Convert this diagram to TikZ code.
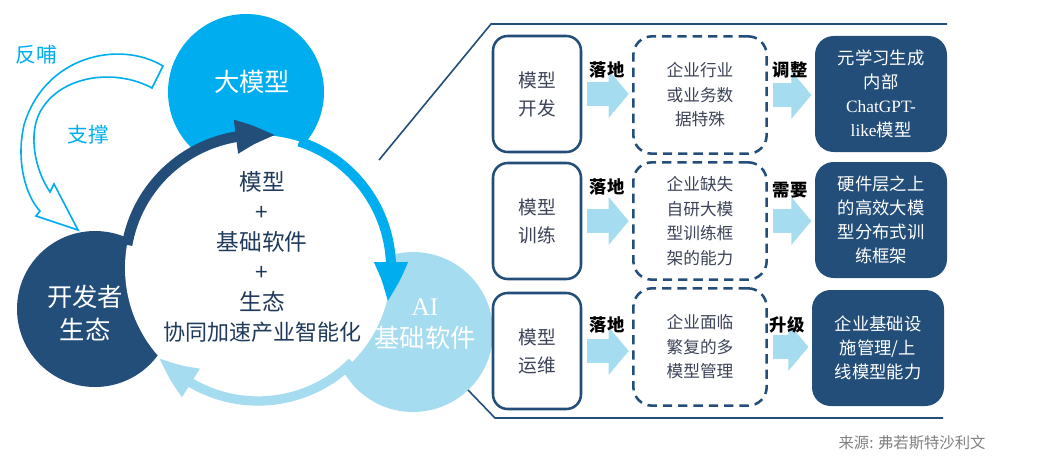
\documentclass[tikz,border=0pt]{standalone}
\usepackage{fontspec}
\setmainfont{Liberation Serif}
\newfontfamily\cjk{Noto Sans CJK SC}
\usetikzlibrary{arrows.meta,bending}

\definecolor{deepblue}{HTML}{234E7A}
\definecolor{skyblue}{HTML}{00AEEF}
\definecolor{paleblue}{HTML}{A6DCF0}
\definecolor{inkblue}{HTML}{1F3A5C}
\definecolor{slate}{HTML}{3C4358}

\begin{document}
\begin{tikzpicture}[x=0.75pt, y=-0.75pt,
    bubble/.style={circle, inner sep=0pt, outer sep=0pt, minimum size=#1},
    stage/.style={draw=deepblue, line width=1.9pt, rounded corners=11pt, fill=white,
        minimum width=66pt, minimum height=87pt, align=center, text=slate,
        font=\cjk\fontsize{14}{21}\selectfont},
    need/.style={draw=deepblue, line width=1.9pt, dash pattern=on 7pt off 4.5pt,
        rounded corners=14pt, minimum width=100pt, minimum height=88pt, align=center,
        text=slate, font=\cjk\fontsize{12.5}{18.4}\selectfont},
    goal/.style={fill=deepblue, rounded corners=14pt, minimum width=99pt,
        minimum height=87pt, align=center, text=white, font=\cjk\fontsize{13}{18}\selectfont},
    flow/.style={draw=paleblue, line width=18pt, -{Triangle[length=15pt, width=35pt]},
        shorten <=3.5pt, shorten >=2.5pt},
    tag/.style={font=\cjk\bfseries\fontsize{13}{15}\selectfont, text=black},
    cyclearc/.style={line width=#1, -{Triangle[length=31pt, width=23pt, bend]}}
]
    \useasboundingbox (0,0) rectangle (1048,460);

    % --- Les trois cercles ---
    \node[bubble=117pt, fill=skyblue] (big) at (246,92) {};
    \node[bubble=117pt, fill=deepblue] (dev) at (95,309) {};
    \node[bubble=120pt, fill=paleblue] (ai) at (413,332) {};

    % --- Disque central et fleches circulaires ---
    \node[bubble=199.5pt, fill=white] (hub) at (258,268) {};
    \draw[skyblue, cyclearc=7.5pt] (hub.72) arc[start angle=72, end angle=-15, radius=99.75pt];
    \draw[deepblue, cyclearc=8pt] (hub.170) arc[start angle=170, end angle=82, radius=99.75pt];
    \draw[paleblue, cyclearc=7pt] (hub.-45) arc[start angle=-45, end angle=-138, radius=99.75pt];

    % --- Textes des cercles ---
    \node[text=white, font=\cjk\fontsize{19}{22}\selectfont] (bigtxt) at (252,82) {大模型};
    \node[text=white, align=center, font=\cjk\fontsize{19}{25}\selectfont] (devtxt) at (85,313) {开发者\\生态};
    \node[text=white, align=center, font=\cjk\fontsize{19}{24}\selectfont] (aitxt) at (425,324) {{\rmfamily AI}\\基础软件};
    \node[text=inkblue, align=center, font=\cjk\fontsize{17}{22.5}\selectfont] (core) at (262,257)
        {模型\\+\\基础软件\\+\\生态\\{\fontsize{16.5}{22.5}\selectfont 协同加速产业智能化}};

    % --- Fleche creuse a gauche ---
    \draw[skyblue, line width=1.2pt, fill=white, line join=miter]
        (163,66) .. controls (120,40) and (45,55) .. (24,125)
        .. controls (16,160) and (25,195) .. (40,211) -- (36,216) -- (78,230) -- (54,184) -- (50,192)
        .. controls (35,170) and (28,135) .. (40,112)
        .. controls (60,75) and (115,68) .. (152,88) -- cycle;
    \node[text=skyblue, font=\cjk\fontsize{15.5}{17}\selectfont] (feed) at (36,55) {反哺};
    \node[text=skyblue, font=\cjk\fontsize{15.5}{17}\selectfont] (prop) at (88,135) {支撑};

    % --- Cadre de droite ---
    \coordinate (topfoot) at (379,160);
    \coordinate (topknee) at (491,24);
    \coordinate (topend) at (947,24);
    \coordinate (lowfoot) at (468,390);
    \coordinate (lowknee) at (495,418);
    \coordinate (lowend) at (943,418);
    \draw[deepblue, line width=1.2pt] (topfoot) -- (topknee) -- (topend);
    \draw[deepblue, line width=1.2pt] (lowfoot) -- (lowknee) -- (lowend);

    % --- Ligne 1 : developpement ---
    \node[stage] (m1) at (537,94) {模型\\开发};
    \node[need] (d1) at (700,95) {企业行业\\或业务数\\据特殊};
    \node[goal] (g1) at (881,94) {元学习生成\\内部\\{\rmfamily ChatGPT-}\\{\rmfamily like}模型};
    \draw[flow] (m1.east) -- (m1.east -| d1.west);
    \draw[flow] (d1.east) -- (d1.east -| g1.west);
    \node[tag] (t1a) at (607,70) {落地};
    \node[tag] (t1b) at (790,70) {调整};

    % --- Ligne 2 : entrainement ---
    \node[stage] (m2) at (537,221) {模型\\训练};
    \node[need] (d2) at (700,221) {企业缺失\\自研大模\\型训练框\\架的能力};
    \node[goal] (g2) at (881,220) {硬件层之上\\的高效大模\\型分布式训\\练框架};
    \draw[flow] (m2.east) -- (m2.east -| d2.west);
    \draw[flow] (d2.east) -- (d2.east -| g2.west);
    \node[tag] (t2a) at (607,187) {落地};
    \node[tag] (t2b) at (790,190) {需要};

    % --- Ligne 3 : exploitation ---
    \node[stage] (m3) at (537,351) {模型\\运维};
    \node[need] (d3) at (700,347) {企业面临\\繁复的多\\模型管理};
    \node[goal] (g3) at (878,348) {企业基础设\\施管理/上\\线模型能力};
    \draw[flow] (m3.east) -- (m3.east -| d3.west);
    \draw[flow] (d3.east) -- (d3.east -| g3.west);
    \node[tag] (t3a) at (607,325) {落地};
    \node[tag] (t3b) at (787,325) {升级};

    % --- Source ---
    \node[text=gray, font=\cjk\fontsize{11.5}{13}\selectfont] (src) at (912,443) {来源: 弗若斯特沙利文};
\end{tikzpicture}
\end{document}
